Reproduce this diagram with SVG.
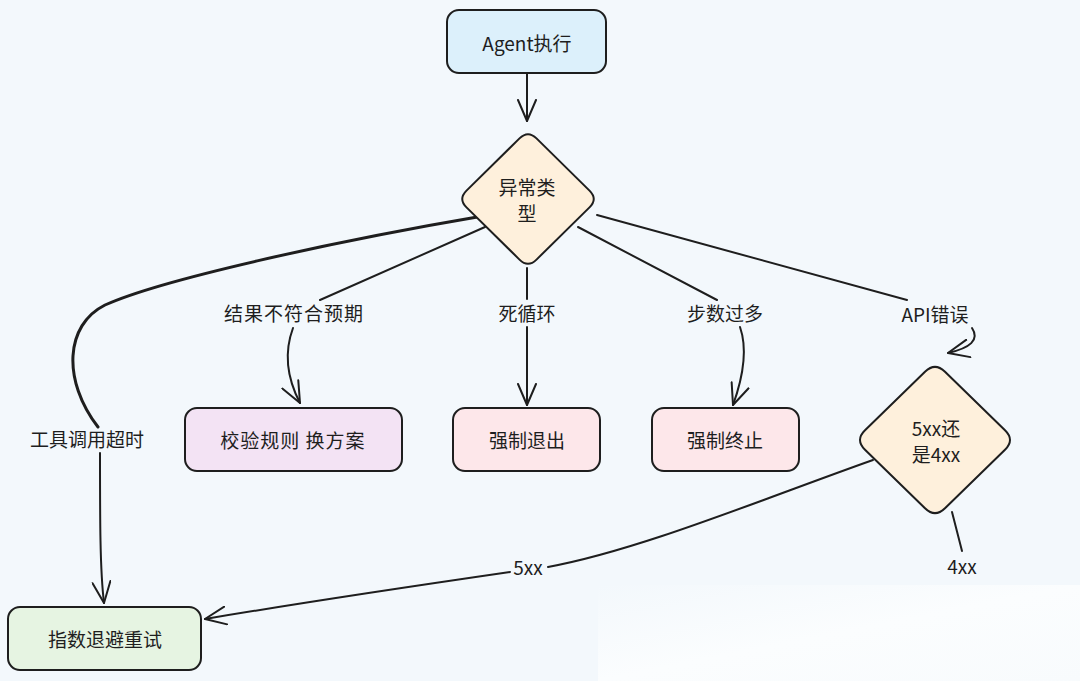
<svg xmlns="http://www.w3.org/2000/svg" width="1080" height="681" viewBox="0 0 1080 681">
  <defs>
    <marker id="arrow" viewBox="0 0 24 20" refX="22" refY="10" markerWidth="24" markerHeight="20" markerUnits="userSpaceOnUse" orient="auto">
      <path d="M1,1 L22,10 L1,19" fill="none" stroke="#1e1e1e" stroke-width="2" stroke-linecap="round" stroke-linejoin="round"/>
    </marker>
    <linearGradient id="wm" x1="0" y1="0" x2="1" y2="1">
      <stop offset="0" stop-color="#f3f8fc"/>
      <stop offset="0.5" stop-color="#fbfdfe"/>
      <stop offset="1" stop-color="#f8fbfd"/>
    </linearGradient>
    <style>
      .node { stroke: #1e1e1e; stroke-width: 2; }
      .edge { fill: none; stroke: #1e1e1e; stroke-width: 2; stroke-linecap: round; stroke-linejoin: round; }
      .thick { stroke-width: 3; }
      .t { font-family: "Noto Sans CJK SC", "Noto Sans", sans-serif; font-size: 19px; fill: #1e1e1e; text-anchor: middle; dominant-baseline: central; }
      .blue { fill: #dcf0fb; }
      .peach { fill: #fef0dc; }
      .purple { fill: #f3e3f4; }
      .pink { fill: #fde7ea; }
      .green { fill: #e6f4e2; }
    </style>
  </defs>

  <rect x="0" y="0" width="1080" height="681" fill="#f3f8fc"/>
  <rect x="598" y="585" width="482" height="96" fill="url(#wm)"/>

  <g id="connectors">
    <path class="edge" d="M527,74 L527,121" marker-end="url(#arrow)"/>
    <path class="edge thick" d="M483,216 C 330,242 160,280 105,305 C 65,325 62,380 98,427"/>
    <path class="edge" d="M100,453 C 100,520 100,570 104,603" marker-end="url(#arrow)"/>
    <text class="t" x="87" y="438">工具调用超时</text>

    <path class="edge" d="M485,227 L320,300"/>
    <path class="edge" d="M293,328 C 283,355 288,380 300,403" marker-end="url(#arrow)"/>
    <text class="t" x="294" y="312" letter-spacing="1">结果不符合预期</text>

    <path class="edge" d="M527,268 L527,299"/>
    <path class="edge" d="M527,327 L527,405" marker-end="url(#arrow)"/>
    <text class="t" x="527" y="312">死循环</text>

    <path class="edge" d="M578,227 L717,300"/>
    <path class="edge" d="M740,327 C 748,350 742,380 733,405" marker-end="url(#arrow)"/>
    <text class="t" x="725" y="312">步数过多</text>

    <path class="edge" d="M597,215 L907,300"/>
    <path class="edge" d="M972,328 C 980,340 970,348 948,353" marker-end="url(#arrow)"/>
    <text class="t" x="935" y="313">API错误</text>

    <path class="edge" d="M952,512 L962,551"/>
    <text class="t" x="962" y="565">4xx</text>

    <path class="edge" d="M873,460 C 760,500 640,550 548,567"/>
    <path class="edge" d="M510,572 C 400,588 300,603 205,619" marker-end="url(#arrow)"/>
    <text class="t" x="528" y="566">5xx</text>
  </g>

  <g id="node-agent">
    <rect class="node blue" x="447" y="10" width="159" height="63" rx="12"/>
    <text class="t" x="527" y="42">Agent执行</text>
  </g>

  <g id="node-type">
    <path class="node peach" d="M536.5,138.4 L589.5,190.6 Q598,199 589.5,207.4 L536.5,259.6 Q528,268 519.5,259.6 L466.5,207.4 Q458,199 466.5,190.6 L519.5,138.4 Q528,130 536.5,138.4 Z"/>
    <text class="t" x="527" y="186">异常类</text>
    <text class="t" x="527" y="212">型</text>
  </g>

  <g id="node-validate">
    <rect class="node purple" x="185" y="408" width="217" height="63" rx="12"/>
    <text class="t" x="293" y="439" letter-spacing="1">校验规则 换方案</text>
  </g>

  <g id="node-exit">
    <rect class="node pink" x="453" y="408" width="147" height="63" rx="12"/>
    <text class="t" x="527" y="439">强制退出</text>
  </g>

  <g id="node-stop">
    <rect class="node pink" x="652" y="408" width="147" height="63" rx="12"/>
    <text class="t" x="725" y="439">强制终止</text>
  </g>

  <g id="node-code">
    <path class="node peach" d="M945,371.75 L1005,430.25 Q1015,440 1005,449.75 L945,508.25 Q935,518 925,508.25 L865,449.75 Q855,440 865,430.25 L925,371.75 Q935,362 945,371.75 Z"/>
    <text class="t" x="936" y="427">5xx还</text>
    <text class="t" x="936" y="453">是4xx</text>
  </g>

  <g id="node-retry">
    <rect class="node green" x="8" y="607" width="193" height="63" rx="12"/>
    <text class="t" x="105" y="638">指数退避重试</text>
  </g>
</svg>
